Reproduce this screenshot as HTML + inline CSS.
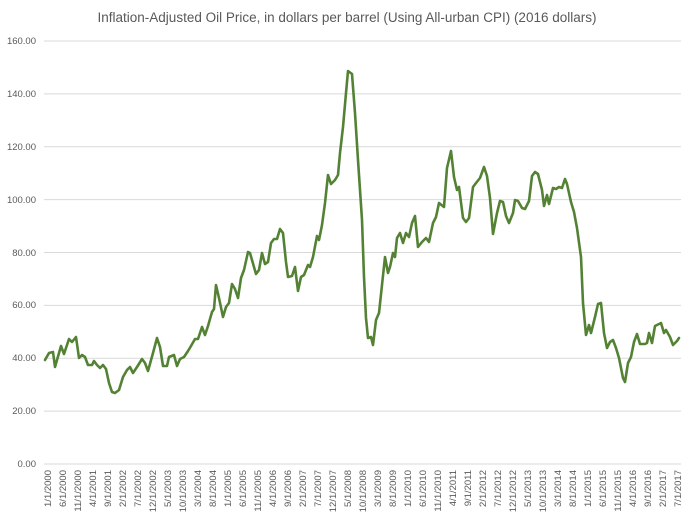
<!DOCTYPE html>
<html><head><meta charset="utf-8"><style>
html,body{margin:0;padding:0;background:#fff}
svg{display:block;font-family:"Liberation Sans",sans-serif}
</style></head><body>
<svg width="693" height="521" viewBox="0 0 693 521" xmlns="http://www.w3.org/2000/svg">
<rect width="693" height="521" fill="#fff"/>
<text x="347" y="22" text-anchor="middle" font-size="13.5" fill="#595959">Inflation-Adjusted Oil Price, in dollars per barrel (Using All-urban CPI) (2016 dollars)</text>
<g stroke="#d9d9d9" stroke-width="1">
<line x1="44" x2="681" y1="41" y2="41"/><line x1="44" x2="681" y1="93.9" y2="93.9"/>
<line x1="44" x2="681" y1="146.8" y2="146.8"/><line x1="44" x2="681" y1="199.6" y2="199.6"/>
<line x1="44" x2="681" y1="252.5" y2="252.5"/><line x1="44" x2="681" y1="305.4" y2="305.4"/>
<line x1="44" x2="681" y1="358.3" y2="358.3"/><line x1="44" x2="681" y1="411.1" y2="411.1"/>
<line x1="44" x2="681" y1="464" y2="464"/></g>
<g font-size="9.5" fill="#595959" text-anchor="end">
<text x="36" y="44">160.00</text><text x="36" y="97">140.00</text><text x="36" y="150">120.00</text>
<text x="36" y="203">100.00</text><text x="36" y="256">80.00</text><text x="36" y="308">60.00</text>
<text x="36" y="361">40.00</text><text x="36" y="414">20.00</text><text x="36" y="467">0.00</text>
</g>
<g font-size="9.5" fill="#595959" text-anchor="end">
<text transform="translate(51,470) rotate(-90)">1/1/2000</text>
<text transform="translate(66,470) rotate(-90)">6/1/2000</text>
<text transform="translate(81,470) rotate(-90)">11/1/2000</text>
<text transform="translate(96,470) rotate(-90)">4/1/2001</text>
<text transform="translate(111,470) rotate(-90)">9/1/2001</text>
<text transform="translate(126,470) rotate(-90)">2/1/2002</text>
<text transform="translate(141,470) rotate(-90)">7/1/2002</text>
<text transform="translate(156,470) rotate(-90)">12/1/2002</text>
<text transform="translate(171,470) rotate(-90)">5/1/2003</text>
<text transform="translate(186,470) rotate(-90)">10/1/2003</text>
<text transform="translate(201,470) rotate(-90)">3/1/2004</text>
<text transform="translate(216,470) rotate(-90)">8/1/2004</text>
<text transform="translate(231,470) rotate(-90)">1/1/2005</text>
<text transform="translate(246,470) rotate(-90)">6/1/2005</text>
<text transform="translate(261,470) rotate(-90)">11/1/2005</text>
<text transform="translate(276,470) rotate(-90)">4/1/2006</text>
<text transform="translate(291,470) rotate(-90)">9/1/2006</text>
<text transform="translate(306,470) rotate(-90)">2/1/2007</text>
<text transform="translate(321,470) rotate(-90)">7/1/2007</text>
<text transform="translate(336,470) rotate(-90)">12/1/2007</text>
<text transform="translate(351,470) rotate(-90)">5/1/2008</text>
<text transform="translate(366,470) rotate(-90)">10/1/2008</text>
<text transform="translate(381,470) rotate(-90)">3/1/2009</text>
<text transform="translate(396,470) rotate(-90)">8/1/2009</text>
<text transform="translate(411,470) rotate(-90)">1/1/2010</text>
<text transform="translate(426,470) rotate(-90)">6/1/2010</text>
<text transform="translate(441,470) rotate(-90)">11/1/2010</text>
<text transform="translate(456,470) rotate(-90)">4/1/2011</text>
<text transform="translate(471,470) rotate(-90)">9/1/2011</text>
<text transform="translate(486,470) rotate(-90)">2/1/2012</text>
<text transform="translate(501,470) rotate(-90)">7/1/2012</text>
<text transform="translate(516,470) rotate(-90)">12/1/2012</text>
<text transform="translate(531,470) rotate(-90)">5/1/2013</text>
<text transform="translate(546,470) rotate(-90)">10/1/2013</text>
<text transform="translate(561,470) rotate(-90)">3/1/2014</text>
<text transform="translate(576,470) rotate(-90)">8/1/2014</text>
<text transform="translate(591,470) rotate(-90)">1/1/2015</text>
<text transform="translate(606,470) rotate(-90)">6/1/2015</text>
<text transform="translate(621,470) rotate(-90)">11/1/2015</text>
<text transform="translate(636,470) rotate(-90)">4/1/2016</text>
<text transform="translate(651,470) rotate(-90)">9/1/2016</text>
<text transform="translate(666,470) rotate(-90)">2/1/2017</text>
<text transform="translate(681,470) rotate(-90)">7/1/2017</text>
</g>
<polyline fill="none" stroke="#548235" stroke-width="2.6" stroke-linejoin="round" stroke-linecap="round" points="
45,360 49,353 53,352 55,367 61,346 64,354 69,339 72,342 76,337 79,358 82,355 85,357 88,365 92,365 94,361 97,365 100,368 103,365 106,369 109,383 112,392 115,393 119,390 123,377 127,370 130,367 133,373 137,367 142,359 145,363 148,371 153,353 157,338 160,347 163,366 167,366 169,357 174,355 177,366 180,359 184,357 188,351 191,346 195,339 198,339 202,327 205,335 208,326 212,312 214,309 216,285 219,298 223,317 226,307 229,303 232,284 235,289 238,298 241,278 244,270 248,252 250,253 256,274 259,270 262,253 265,264 268,262 271,243 274,239 277,239 280,229 283,233 286,262 288,277 292,276 295,267 298,291 301,277 304,275 308,265 310,267 313,257 317,236 319,240 322,225 325,203 328,175 331,184 335,180 338,175 340,153 343,127 346,93 348,71 352,74 355,113 358,160 362,220 364,277 366,318 368,338 371,337 373,345 376,320 379,313 382,285 385,257 388,273 390,267 393,253 395,257 397,238 400,233 403,243 406,233 409,237 412,223 415,216 418,247 422,242 426,238 429,242 433,223 436,217 439,203 444,207 447,168 451,151 454,177 457,190 459,187 463,218 466,222 469,218 473,187 476,183 480,178 484,167 487,176 490,198 493,234 497,213 500,201 503,202 506,216 509,223 513,213 515,200 518,201 522,208 525,209 529,201 532,176 535,172 538,174 542,190 544,206 547,195 549,204 553,188 556,189 559,187 562,188 565,179 567,184 571,202 574,212 577,228 581,257 583,303 586,335 589,325 591,333 595,317 598,304 601,303 604,333 607,348 610,342 613,340 616,348 619,358 623,378 625,382 628,363 631,357 634,342 637,334 640,344 645,344 647,343 649,333 652,343 655,326 659,324 661,323 664,333 666,330 670,337 673,345 677,341 679,338"/>
</svg>
</body></html>
